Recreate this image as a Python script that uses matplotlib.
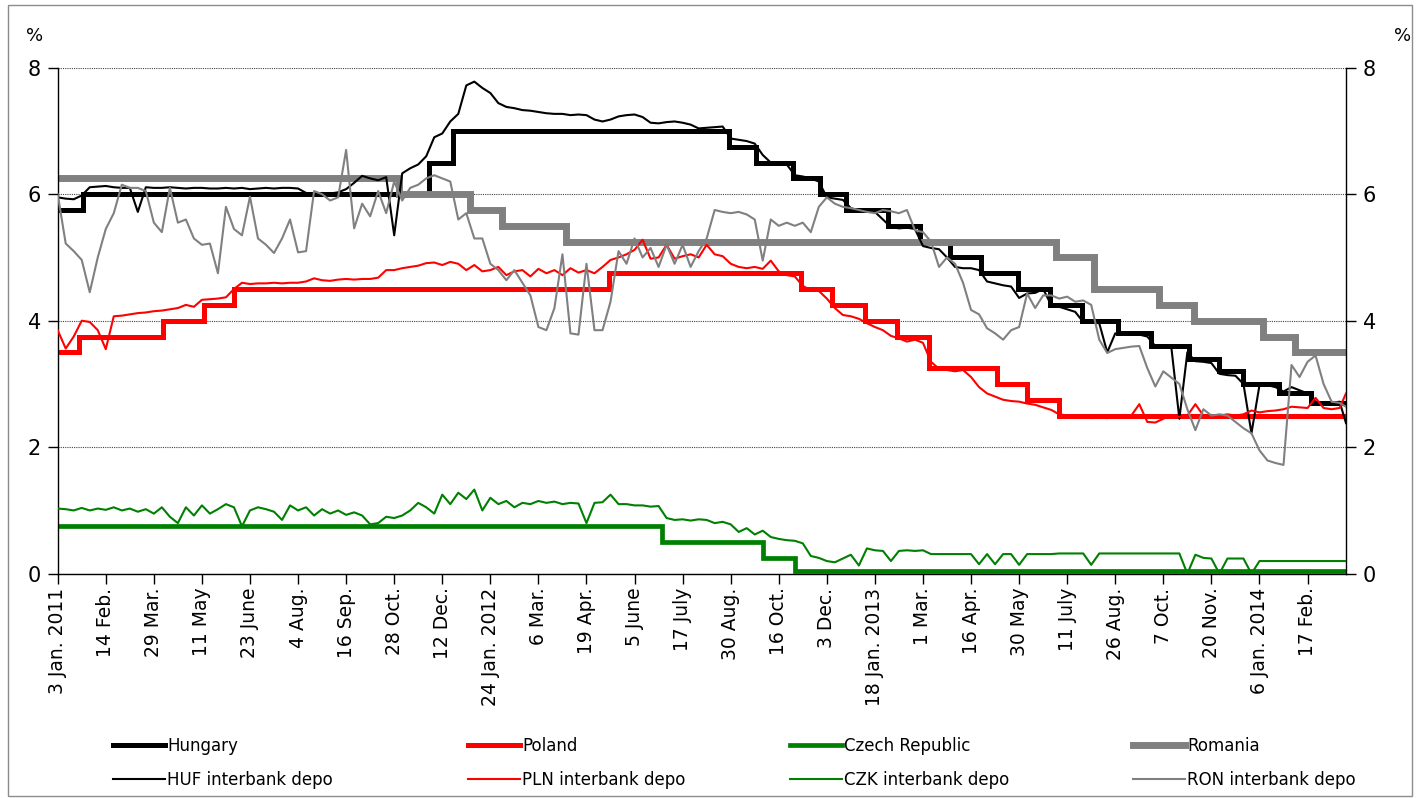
import matplotlib
matplotlib.use("Agg")
import matplotlib.pyplot as plt
from matplotlib.patches import Rectangle

# ---------------- data ----------------
# x axis = trading-day index (0 = 3 Jan 2011), a tick label every 30 trading days
TICK_LABELS = ["3 Jan. 2011", "14 Feb.", "29 Mar.", "11 May", "23 June", "4 Aug.", "16 Sep.",
               "28 Oct.", "12 Dec.", "24 Jan. 2012", "6 Mar.", "19 Apr.", "5 June", "17 July",
               "30 Aug.", "16 Oct.", "3 Dec.", "18 Jan. 2013", "1 Mar.", "16 Apr.", "30 May",
               "11 July", "26 Aug.", "7 Oct.", "20 Nov.", "6 Jan. 2014", "17 Feb."]
TICK_IDX = [30 * i for i in range(len(TICK_LABELS))]
LAST_DAY = 804

# policy rates: day index where a rate starts, and the rate
HU_X = [0, 16, 232, 247, 419, 436, 459, 476, 492, 518, 538, 557, 576, 599, 619, 639, 662, 682, 706, 725, 740, 762, 782, 804]
HU_Y = [5.75, 6.0, 6.5, 7.0, 6.75, 6.5, 6.25, 6.0, 5.75, 5.5, 5.25, 5.0, 4.75, 4.5, 4.25, 4.0, 3.8, 3.6, 3.4, 3.2, 3.0, 2.85, 2.7, 2.7]
PL_X = [0, 13, 66, 91, 110, 344, 464, 483, 504, 524, 544, 586, 605, 625, 804]
PL_Y = [3.5, 3.75, 4.0, 4.25, 4.5, 4.75, 4.5, 4.25, 4.0, 3.75, 3.25, 3.0, 2.75, 2.5, 2.5]
CZ_X = [0, 377, 440, 460, 804]
CZ_Y = [0.75, 0.5, 0.25, 0.05, 0.05]
RO_X = [0, 213, 257, 277, 317, 623, 647, 687, 709, 752, 772, 804]
RO_Y = [6.25, 6.0, 5.75, 5.5, 5.25, 5.0, 4.5, 4.25, 4.0, 3.75, 3.5, 3.5]

# interbank deposit rates, read every 5 trading days
IB_X = list(range(0, 801, 5)) + [804]
HUF_IB = [5.95, 5.93, 5.92, 5.98, 6.11, 6.12, 6.13, 6.11, 6.10, 6.10,
          5.72, 6.11, 6.10, 6.10, 6.11, 6.10, 6.09, 6.10, 6.10, 6.09,
          6.09, 6.10, 6.09, 6.10, 6.08, 6.09, 6.10, 6.09, 6.10, 6.10,
          6.09, 6.02, 6.01, 6.02, 6.01, 6.03, 6.08, 6.18, 6.29, 6.25,
          6.22, 6.27, 5.35, 6.33, 6.41, 6.47, 6.60, 6.90, 6.96, 7.15,
          7.27, 7.72, 7.78, 7.68, 7.60, 7.44, 7.38, 7.36, 7.33, 7.32,
          7.30, 7.28, 7.27, 7.27, 7.25, 7.26, 7.25, 7.18, 7.15, 7.18,
          7.23, 7.25, 7.26, 7.22, 7.13, 7.12, 7.14, 7.15, 7.13, 7.10,
          7.04, 7.05, 7.06, 7.07, 6.88, 6.86, 6.84, 6.80, 6.62, 6.50,
          6.49, 6.47, 6.30, 6.28, 6.25, 6.20, 5.95, 5.93, 5.91, 5.78,
          5.74, 5.72, 5.72, 5.60, 5.48, 5.46, 5.47, 5.45, 5.18, 5.15,
          5.13, 5.00, 4.85, 4.83, 4.83, 4.80, 4.62, 4.59, 4.56, 4.54,
          4.36, 4.43, 4.44, 4.50, 4.25, 4.22, 4.18, 4.14, 3.98, 3.97,
          3.96, 3.50, 3.80, 3.78, 3.78, 3.78, 3.75, 3.60, 3.59, 3.58,
          2.45, 3.50, 3.36, 3.35, 3.33, 3.16, 3.14, 3.13, 3.00, 2.22,
          2.98, 2.98, 2.95, 2.88, 2.95, 2.90, 2.85, 2.72, 2.70, 2.70,
          2.72, 2.38]
PLN_IB = [3.85, 3.56, 3.75, 4.00, 3.98, 3.85, 3.55, 4.07, 4.08, 4.10,
          4.12, 4.13, 4.15, 4.16, 4.18, 4.20, 4.25, 4.22, 4.33, 4.34,
          4.35, 4.37, 4.50, 4.60, 4.58, 4.59, 4.59, 4.60, 4.59, 4.60,
          4.60, 4.62, 4.67, 4.64, 4.63, 4.65, 4.66, 4.65, 4.66, 4.66,
          4.68, 4.80, 4.80, 4.83, 4.85, 4.87, 4.91, 4.92, 4.88, 4.93,
          4.90, 4.80, 4.88, 4.78, 4.80, 4.85, 4.72, 4.78, 4.80, 4.70,
          4.82, 4.75, 4.80, 4.72, 4.83, 4.76, 4.80, 4.75, 4.85, 4.96,
          5.00, 5.05, 5.12, 5.28, 4.98, 5.00, 5.20, 4.98, 5.02, 5.05,
          5.00, 5.20, 5.05, 5.02, 4.90, 4.85, 4.83, 4.85, 4.82, 4.95,
          4.78, 4.72, 4.70, 4.55, 4.48, 4.47, 4.35, 4.20, 4.09, 4.07,
          4.03, 3.96, 3.90, 3.85, 3.76, 3.72, 3.67, 3.70, 3.65, 3.35,
          3.24, 3.22, 3.20, 3.22, 3.11, 2.95, 2.85, 2.80, 2.75, 2.73,
          2.72, 2.69, 2.67, 2.63, 2.59, 2.52, 2.50, 2.48, 2.49, 2.46,
          2.47, 2.46, 2.48, 2.47, 2.50, 2.68, 2.40, 2.39, 2.45, 2.50,
          2.48, 2.50, 2.68, 2.50, 2.49, 2.50, 2.52, 2.50, 2.52, 2.58,
          2.55, 2.57, 2.58, 2.60, 2.64, 2.63, 2.62, 2.78, 2.62, 2.60,
          2.62, 2.85]
CZK_IB = [1.03, 1.02, 1.00, 1.04, 1.00, 1.03, 1.01, 1.05, 1.00, 1.03,
          0.98, 1.02, 0.95, 1.05, 0.90, 0.80, 1.05, 0.92, 1.08, 0.95,
          1.02, 1.10, 1.05, 0.75, 1.00, 1.05, 1.02, 0.98, 0.85, 1.08,
          1.00, 1.05, 0.92, 1.02, 0.95, 1.00, 0.93, 0.97, 0.92, 0.78,
          0.80, 0.90, 0.88, 0.92, 1.00, 1.12, 1.05, 0.95, 1.25, 1.10,
          1.28, 1.18, 1.33, 1.00, 1.20, 1.10, 1.15, 1.05, 1.12, 1.10,
          1.15, 1.12, 1.14, 1.10, 1.12, 1.11, 0.80, 1.12, 1.13, 1.25,
          1.10, 1.10, 1.08, 1.08, 1.06, 1.07, 0.88, 0.85, 0.86, 0.84,
          0.86, 0.85, 0.80, 0.82, 0.78, 0.66, 0.72, 0.62, 0.68, 0.58,
          0.55, 0.53, 0.52, 0.48, 0.28, 0.25, 0.20, 0.18, 0.24, 0.30,
          0.13, 0.40, 0.37, 0.36, 0.20, 0.36, 0.37, 0.36, 0.37, 0.31,
          0.31, 0.31, 0.31, 0.31, 0.31, 0.15, 0.31, 0.15, 0.31, 0.31,
          0.14, 0.31, 0.31, 0.31, 0.31, 0.32, 0.32, 0.32, 0.32, 0.14,
          0.32, 0.32, 0.32, 0.32, 0.32, 0.32, 0.32, 0.32, 0.32, 0.32,
          0.32, 0.00, 0.30, 0.25, 0.24, 0.00, 0.24, 0.24, 0.24, 0.00,
          0.20, 0.20, 0.20, 0.20, 0.20, 0.20, 0.20, 0.20, 0.20, 0.20,
          0.20, 0.20]
RON_IB = [6.00, 5.22, 5.10, 4.96, 4.45, 5.00, 5.45, 5.70, 6.15, 6.10,
          6.10, 6.05, 5.55, 5.40, 6.10, 5.55, 5.60, 5.30, 5.20, 5.22,
          4.75, 5.80, 5.45, 5.35, 5.96, 5.30, 5.20, 5.07, 5.30, 5.60,
          5.08, 5.10, 6.05, 6.00, 5.90, 5.95, 6.70, 5.46, 5.85, 5.65,
          6.05, 5.70, 6.20, 5.90, 6.10, 6.15, 6.25, 6.30, 6.25, 6.20,
          5.60, 5.70, 5.30, 5.30, 4.90, 4.80, 4.64, 4.80, 4.60, 4.40,
          3.90, 3.85, 4.20, 5.05, 3.80, 3.78, 4.90, 3.85, 3.85, 4.30,
          5.10, 4.90, 5.30, 5.00, 5.15, 4.85, 5.20, 4.90, 5.20, 4.85,
          5.10, 5.30, 5.75, 5.72, 5.70, 5.72, 5.68, 5.60, 4.95, 5.60,
          5.50, 5.55, 5.50, 5.55, 5.40, 5.80, 5.95, 5.85, 5.80, 5.78,
          5.75, 5.72, 5.70, 5.75, 5.73, 5.70, 5.75, 5.43, 5.40, 5.25,
          4.85, 5.00, 4.90, 4.60, 4.17, 4.10, 3.88, 3.80, 3.70, 3.85,
          3.90, 4.43, 4.20, 4.40, 4.40, 4.35, 4.38, 4.30, 4.32, 4.25,
          3.70, 3.49, 3.55, 3.57, 3.59, 3.60, 3.25, 2.96, 3.20, 3.10,
          3.00, 2.60, 2.27, 2.60, 2.50, 2.52, 2.50, 2.40, 2.30, 2.22,
          1.95, 1.79, 1.75, 1.72, 3.30, 3.11, 3.35, 3.45, 3.00, 2.72,
          2.70, 2.64]

SERIES_NAMES = ["Hungary", "Poland", "Czech Republic", "Romania",
                "HUF interbank depo", "PLN interbank depo", "CZK interbank depo", "RON interbank depo"]
COLORS = ["#000000", "#FF0000", "#008000", "#808080"]

# ---------------- figure ----------------
W, H = 1421, 798
fig = plt.figure(figsize=(W / 100, H / 100), dpi=100)
L, R, T, B = 57.7, 1346, 67.7, 573.7
ax = fig.add_axes([L / W, 1 - B / H, (R - L) / W, (B - T) / H])

policy = [(HU_X, HU_Y, 3.6), (PL_X, PL_Y, 3.6), (CZ_X, CZ_Y, 3.4), (RO_X, RO_Y, 5.0)]
thin = [HUF_IB, PLN_IB, CZK_IB, RON_IB]
handles = []
for (xs, ys, lw), c, name in zip(policy, COLORS, SERIES_NAMES[:4]):
    h, = ax.plot(xs, ys, drawstyle="steps-post", color=c, lw=lw, label=name,
                 solid_joinstyle="miter", zorder=2)
    handles.append(h)
for ys, c, name in zip(thin, COLORS, SERIES_NAMES[4:]):
    h, = ax.plot(IB_X, ys, color=c, lw=1.5, label=name, zorder=3)
    handles.append(h)

ax.set_xlim(0, LAST_DAY)
ax.set_ylim(0, 8)
ax.set_xticks(TICK_IDX)
ax.set_xticklabels(TICK_LABELS, rotation=90, fontsize=13.5, va="top", ha="center")
ax.set_yticks([0, 2, 4, 6, 8])
ax.set_yticklabels(["0", "2", "4", "6", "8"], fontsize=15)
ax.tick_params(axis="y", left=True, right=True, labelleft=True, labelright=True,
               direction="out", length=7, width=1, pad=5)
ax.tick_params(axis="x", direction="out", length=7, width=1, pad=3)
for s in ["left", "right", "bottom"]:
    ax.spines[s].set_color("black")
    ax.spines[s].set_linewidth(1.0)
ax.spines["top"].set_visible(False)
ax.yaxis.grid(True, linestyle=(0, (1, 1)), color="#444444", linewidth=0.8)
ax.set_axisbelow(True)

fig.text(35 / W, 1 - 36 / H, "%", fontsize=13, ha="center", va="center")
fig.text(1403 / W, 1 - 36 / H, "%", fontsize=13, ha="center", va="center")

# legend: four columns, policy rate above interbank rate
col_x = [113, 468, 790, 1133]
for i, x0 in enumerate(col_x):
    fig.legend([handles[i], handles[i + 4]], [SERIES_NAMES[i], SERIES_NAMES[i + 4]],
               loc="upper left", bbox_to_anchor=(x0 / W, 1 - 737 / H),
               frameon=False, fontsize=12, handlelength=3.1, handletextpad=0.15,
               borderpad=0, borderaxespad=0, labelspacing=0.95)

fig.patches.append(Rectangle((8 / W, 1 - 796 / H), (1412 - 8) / W, (796 - 5) / H,
                             transform=fig.transFigure, fill=False,
                             edgecolor="#8c8c8c", lw=1.0))

fig.savefig("out.png", dpi=100)
